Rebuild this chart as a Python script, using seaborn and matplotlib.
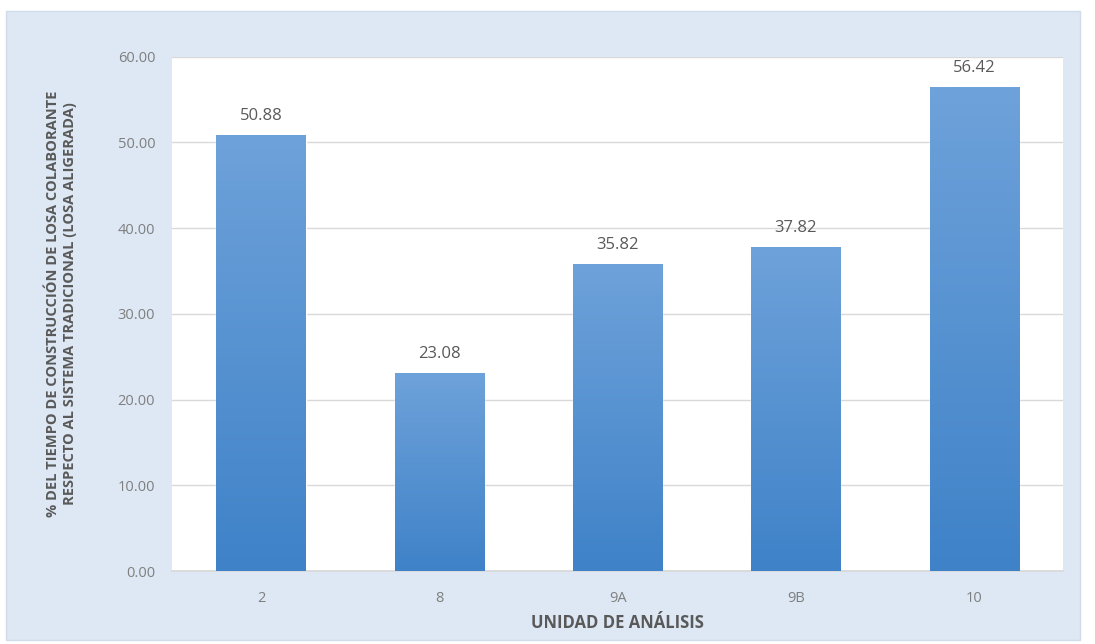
import numpy as np
import pandas as pd
import seaborn as sns
import matplotlib.pyplot as plt
from matplotlib.patches import Rectangle

# data
unidades = ['2', '8', '9A', '9B', '10']
porcentajes = [50.88, 23.08, 35.82, 37.82, 56.42]
y_ticks = [0, 10, 20, 30, 40, 50, 60]

df = pd.DataFrame({'Unidad': unidades, 'Porcentaje': porcentajes})

sns.set_theme(style="white")
plt.rcParams['font.family'] = ['Open Sans', 'DejaVu Sans']

fig = plt.figure(figsize=(10.95, 6.44), dpi=100)
fig.patch.set_facecolor('white')
# light blue chart area behind the plot
fig.patches.append(Rectangle((6 / 1095, 4 / 644), 1074 / 1095, 629 / 644,
                             transform=fig.transFigure, facecolor='#dde8f4',
                             edgecolor='#d0dcea', linewidth=1, zorder=-5))

ax = fig.add_axes([0.157, 0.113, 0.814, 0.799])
ax.set_facecolor('white')

sns.barplot(data=df, x='Unidad', y='Porcentaje', color='#5592d0',
            width=0.5, saturation=1, ax=ax, zorder=2)

# vertical gradient in each bar, lighter on top
grad = np.linspace(0, 1, 256).reshape(-1, 1)
cmap = plt.matplotlib.colors.LinearSegmentedColormap.from_list(
    'bar', ['#3f82c8', '#6ea2da'])
for p in ax.patches:
    x0, y0 = p.get_x(), p.get_y()
    w, h = p.get_width(), p.get_height()
    im = ax.imshow(grad, extent=[x0, x0 + w, y0, y0 + h], origin='lower',
                   cmap=cmap, aspect='auto', zorder=3)
    im.set_clip_path(p)

for i, v in enumerate(porcentajes):
    ax.text(i, v + 1.3, f'{v:.2f}', ha='center', va='bottom',
            fontsize=12, color='#595959', zorder=4)

ax.set_xlim(-0.5, 4.5)
ax.set_ylim(0, 60)
ax.set_yticks(y_ticks)
ax.set_yticklabels([f'{t:.2f}' for t in y_ticks])
ax.yaxis.grid(True, color='#d9d9d9', linewidth=1, zorder=1)
ax.set_axisbelow(True)
ax.tick_params(axis='y', colors='#7f7f7f', labelsize=10.5, length=0, pad=12)
ax.tick_params(axis='x', colors='#7f7f7f', labelsize=10.5, length=0, pad=14)
for s in ['top', 'right', 'left']:
    ax.spines[s].set_visible(False)
ax.spines['bottom'].set_color('#d9d9d9')

ax.set_xlabel('UNIDAD DE ANÁLISIS', fontsize=12, fontweight='bold',
              color='#595959', labelpad=6)
ax.set_ylabel('% DEL TIEMPO DE CONSTRUCCIÓN DE LOSA COLABORANTE\n'
              'RESPECTO AL SISTEMA TRADICIONAL (LOSA ALIGERADA)',
              fontsize=10.5, fontweight='bold', color='#595959',
              linespacing=1.25)
ax.yaxis.set_label_coords(-0.107, 0.52)

fig.savefig('out.png', dpi=100, facecolor=fig.get_facecolor())
